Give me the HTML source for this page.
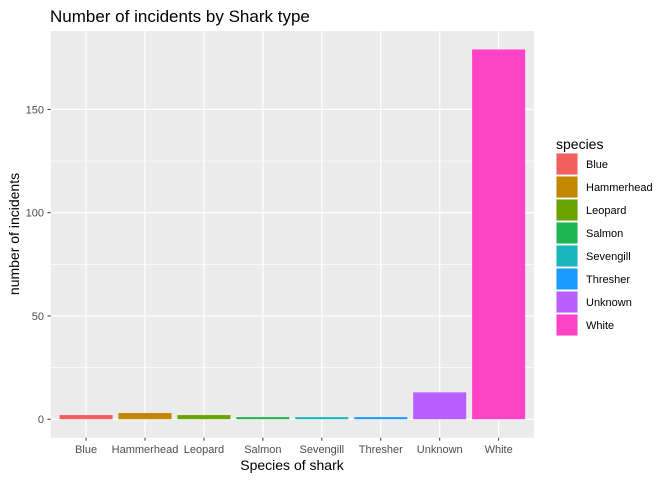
<!DOCTYPE html>
<html><head><meta charset="utf-8"><style>
body{margin:0;background:#fff;font-family:"Liberation Sans",sans-serif}
</style></head><body>
<svg id="c" width="672" height="480" xmlns="http://www.w3.org/2000/svg" font-family="Liberation Sans, sans-serif">
<text x="50" y="22" font-size="17" fill="#000">Number of incidents by Shark type</text>
<rect x="50.7" y="31" width="483.3" height="406.7" fill="#ebebeb"/>
<g id="grid"></g><g id="bars"></g><g id="axes"></g>
<text x="292" y="470" font-size="14" text-anchor="middle">Species of shark</text>
<text transform="translate(19,234) rotate(-90)" font-size="14" text-anchor="middle">number of incidents</text>
<text x="556" y="149" font-size="14">species</text>
<g id="legend"></g>
</svg>
<script>
const categories=["Blue","Hammerhead","Leopard","Salmon","Sevengill","Thresher","Unknown","White"];
const counts=[2,3,2,1,1,1,13,179];
const colors=["#F35F5C","#C18700","#6BA300","#1DB653","#19B6BB","#1A9BFF","#B85FFF","#FF43C6"];
const yTicks=[0,50,100,150];
const ns="http://www.w3.org/2000/svg";
const x0=50.7,x1=534,yTop=31,yBot=437.7;
const n=categories.length;
const step=(x1-x0)/(n-1+1.2);
const xs=i=>x0+step*(0.6+i);
const yMax=Math.max(...counts);
const lo=-yMax*0.05,hi=yMax*1.05;
const ys=v=>yBot-(v-lo)/(hi-lo)*(yBot-yTop);
function mk(t,a,p){const e=document.createElementNS(ns,t);for(const k in a)e.setAttribute(k,a[k]);p.appendChild(e);return e;}
const g=document.getElementById('grid'),b=document.getElementById('bars'),ax=document.getElementById('axes'),lg=document.getElementById('legend');
for(let i=0;i<yTicks.length-1;i++){const m=(yTicks[i]+yTicks[i+1])/2;const l=mk('line',{x1:x0,x2:x1,y1:ys(m),y2:ys(m),stroke:'#fff','stroke-width':0.6},g);

}
yTicks.forEach(v=>{const l=mk('line',{x1:x0,x2:x1,y1:ys(v),y2:ys(v),stroke:'#fff','stroke-width':1.2},g);


const t=mk('text',{x:44,y:ys(v)+4,'font-size':11,'text-anchor':'end',fill:'#4d4d4d'},ax);t.textContent=v;


const tk=mk('line',{x1:47.5,x2:50.7,y1:ys(v),y2:ys(v),stroke:'#333'},ax);

});
categories.forEach((c,i)=>{const cx=xs(i);
const l=mk('line',{x1:cx,x2:cx,y1:yTop,y2:yBot,stroke:'#fff','stroke-width':1.2},g);


const w=step*0.9;
const r=mk('rect',{x:cx-w/2,y:ys(counts[i]),width:w,height:ys(0)-ys(counts[i]),fill:colors[i]},b);


const tk=mk('line',{x1:cx,x2:cx,y1:yBot,y2:yBot+3,stroke:'#333'},ax);


const t=mk('text',{x:cx,y:453,'font-size':11,'text-anchor':'middle',fill:'#4d4d4d'},ax);t.textContent=c;


const y=153+i*23;
const k=mk('rect',{x:556,y:y,width:22,height:22,fill:'#f2f2f2'},lg);


const s=mk('rect',{x:556.5,y:y+0.5,width:21,height:21,fill:colors[i]},lg);


const lt=mk('text',{x:586,y:y+15,'font-size':11,fill:'#000'},lg);lt.textContent=c;

});
</script>
</body></html>
